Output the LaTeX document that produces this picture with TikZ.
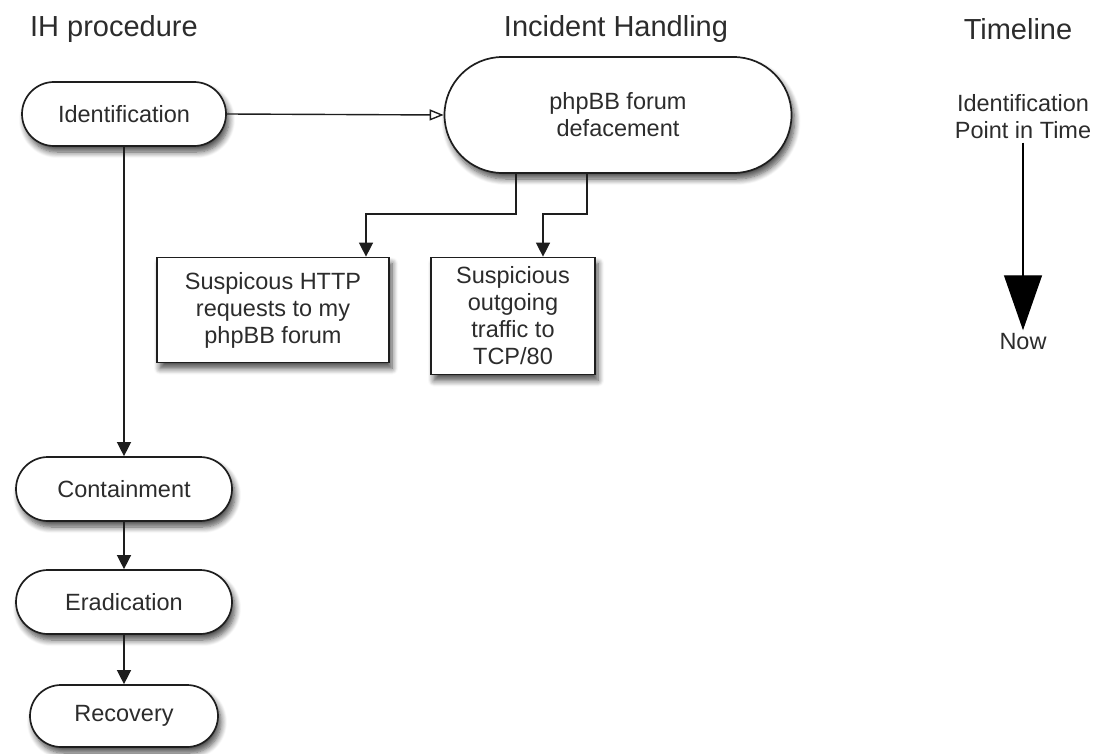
\documentclass[tikz,border=0pt]{standalone}
\usepackage{fontspec}
\setmainfont{Liberation Sans}
\usetikzlibrary{arrows.meta,shadows.blur}
\definecolor{ink}{HTML}{1E1E1E}
\definecolor{txt}{HTML}{2C2C2C}
\tikzset{
  title/.style={font=\fontsize{29}{34}\selectfont, text=txt},
  lbl/.style={font=\fontsize{23.5}{27}\selectfont, text=txt, align=center},
  pill/.style={lbl, draw=ink, line width=1.7pt, fill=white, inner sep=0pt,
    blur shadow={shadow xshift=3pt, shadow yshift=-6pt, shadow blur steps=8, shadow blur radius=6pt, shadow opacity=70}},
  box/.style={lbl, draw=ink, line width=1.7pt, fill=white, inner sep=0pt,
    blur shadow={shadow xshift=3pt, shadow yshift=-6pt, shadow blur steps=8, shadow blur radius=6pt, shadow opacity=70}},
  conn/.style={draw=ink, line width=1.4pt, -{Triangle[length=14pt,width=14pt]}},
  openconn/.style={draw=ink, line width=1.4pt, -{Triangle[open,length=14pt,width=11pt,line width=1.4pt]}},
}
\begin{document}
\begin{tikzpicture}[x=1pt,y=-1pt]
\useasboundingbox (0,0) rectangle (1095,754);
% titles
\node[title] (t1) at (114,29) {IH procedure};
\node[title] (t2) at (616,29) {Incident Handling};
\node[title] (t3) at (1018,29) {Timeline};
% IH procedure column
\node[pill, minimum width=204pt, minimum height=64pt, rounded corners=32pt] (ident) at (124,114) {Identification};
\node[pill, minimum width=216pt, minimum height=64pt, rounded corners=32pt] (cont) at (124,489) {Containment};
\node[pill, minimum width=216pt, minimum height=64pt, rounded corners=32pt] (erad) at (124,602) {Eradication};
\node[pill, minimum width=188pt, minimum height=62pt, rounded corners=31pt] (rec) at (124,716) {Recovery};
% incident handling
\node[pill, minimum width=347pt, minimum height=116pt, rounded corners=58pt] (php) at (618,115) {phpBB forum\\defacement};
\node[box, minimum width=232pt, minimum height=105pt] (r1) at (273,310) {Suspicous HTTP\\requests to my\\phpBB forum};
\node[box, minimum width=164pt, minimum height=117pt] (r2) at (513,316) {Suspicious\\outgoing\\traffic to\\TCP/80};
% timeline
\node[lbl] (tstart) at (1023,117) {Identification\\Point in Time};
\node[lbl] (tnow) at (1023,342) {Now};
% connectors
\draw[openconn] (ident.east) -- (php.west);
\draw[conn] (ident.south) -- (cont.north);
\draw[conn] (cont.south) -- (erad.north);
\draw[conn] (erad.south) -- (rec.north);
\draw[conn] ([xshift=-102pt]php.south) -- ++(0,40) -| ([xshift=93pt]r1.north);
\draw[conn] ([xshift=-31pt]php.south) -- ++(0,40) -| ([xshift=30pt]r2.north);
\draw[draw=black, line width=1.4pt, -{Triangle[length=55pt,width=38pt]}] (tstart.south) -- (tnow.north);
\end{tikzpicture}
\end{document}
